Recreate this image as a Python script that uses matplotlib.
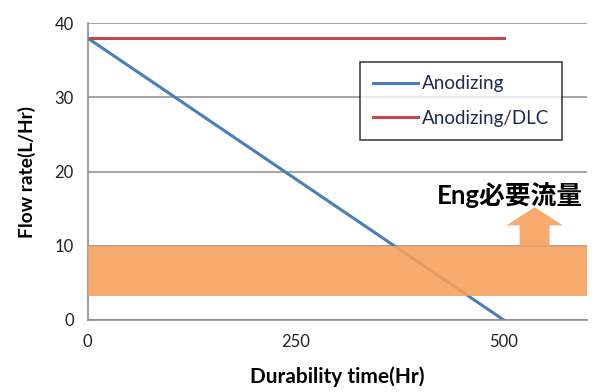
import numpy as np
import matplotlib.pyplot as plt
from matplotlib.patches import FancyArrow

plt.rcParams['font.family'] = ['Lato', 'Noto Sans CJK JP', 'DejaVu Sans']

# durability test results
hours = [0, 500]
anodizing = [38, 0]
anodizing_dlc = [38, 38]

# engine required flow band
req_low = 3.2
req_high = 10
x_max = 600

xticks = [0, 250, 500]
yticks = [0, 10, 20, 30, 40]

fig = plt.figure(figsize=(5.92, 3.92), dpi=100)
ax = fig.add_axes([0.148, 0.1837, 0.8436, 0.757])

ax.plot(hours, anodizing, color='#4a7ebb', lw=2.2, label='Anodizing', zorder=2)
ax.plot(hours, anodizing_dlc, color='#be4b48', lw=2.2, label='Anodizing/DLC', zorder=2)

ax.axhspan(req_low, req_high, color='#f7a05a', alpha=0.88, lw=0, zorder=3)

arrow = FancyArrow(537, req_high, 0, 5.2, width=36, head_width=68,
                   head_length=2.45, length_includes_head=True,
                   color='#f7a05a', alpha=0.88, lw=0, zorder=3)
ax.add_patch(arrow)

ax.text(595, 16.9, 'Eng必要流量', ha='right', va='center', fontsize=18.5,
        fontweight='bold', color='black', zorder=4)

ax.set_xlim(0, x_max)
ax.set_ylim(0, 40)
ax.set_xticks(xticks)
ax.set_yticks(yticks)
ax.grid(axis='y', color='#8c8c8c', lw=1.1, zorder=1)
ax.set_axisbelow(True)
ax.tick_params(length=0, labelsize=12, labelcolor='#222222', pad=10)

for side in ['top', 'right']:
    ax.spines[side].set_visible(False)
for side in ['left', 'bottom']:
    ax.spines[side].set_color('#8c8c8c')
    ax.spines[side].set_linewidth(1.2)

ax.set_xlabel('Durability time(Hr)', fontsize=15, fontweight='bold', labelpad=12)
ax.set_ylabel('Flow rate(L/Hr)', fontsize=13.8, fontweight='bold', labelpad=13)

leg = ax.legend(loc='upper left', bbox_to_anchor=(360 / 592, 1 - 62 / 392),
                bbox_transform=fig.transFigure, fontsize=13.5,
                frameon=True, fancybox=False, edgecolor='black', handlelength=2.4,
                handletextpad=0.2, labelspacing=0.95, borderpad=0.7, borderaxespad=0)
leg.get_frame().set_linewidth(1.1)
for t in leg.get_texts():
    t.set_color('#1f2a4f')

fig.savefig('out.png', dpi=100)
